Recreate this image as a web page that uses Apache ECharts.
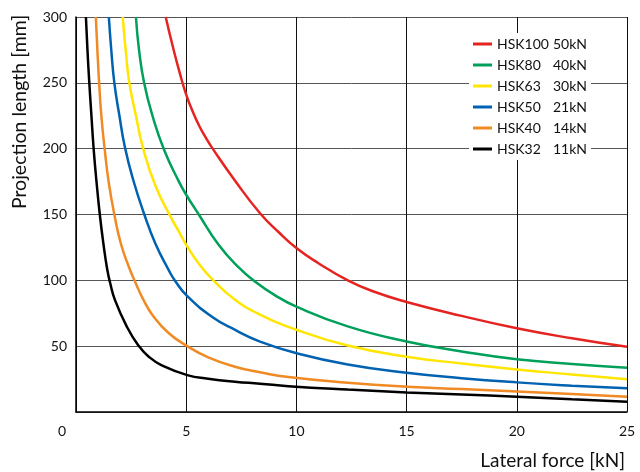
<!DOCTYPE html>
<html><head><meta charset="utf-8">
<script src="https://cdn.jsdelivr.net/npm/echarts@6/dist/echarts.min.js"></script>
<style>html,body{margin:0;padding:0;background:#fff}#c{width:640px;height:472px}</style>
</head><body><div id="c"></div>
<script>
const seriesNames = ['HSK100','HSK80','HSK63','HSK50','HSK40','HSK32'];
const forceLabels = ['50kN','40kN','30kN','21kN','14kN','11kN'];
const colors = ['#e52421','#00a05a','#ffe600','#0062b0','#f08a24','#000000'];
const xTicks = [0,5,10,15,20,25];
const yTicks = [0,50,100,150,200,250,300];

const hsk100 = [[4.07,300],[4.4,277],[4.7,258],[5,241],[5.3,228],[5.6,217],[5.9,208],[6.2,200],[7.2,176],[8.35,151],[9.2,136.5],[10,124.5],[11,113],[12.33,100],[13.5,91.5],[15,83.6],[17.5,73],[20,63.6],[22.5,56],[25,49.5]];
const hsk80 = [[2.72,300],[2.86,275],[3.09,250],[3.47,225],[4.0,199],[4.67,175],[5,165],[5.57,150],[6.47,127],[7.37,110],[8.13,99],[9,89],[10,80],[12.33,65],[15,53.5],[17.5,46],[20,40],[22.5,36.5],[25,33.6]];
const hsk63 = [[2.12,300],[2.27,272],[2.42,250],[2.72,225],[3.05,200],[3.6,172],[4.3,148],[4.67,137],[5,127],[5.6,112],[6.2,100.5],[7.2,85.5],[8.35,74],[10,62.5],[12.33,50.5],[15,42],[17.5,36.8],[20,32.3],[22.5,28.5],[25,24.8]];
const hsk50 = [[1.49,300],[1.6,275],[1.74,250],[1.97,225],[2.22,201],[2.6,176],[3.1,150],[3.6,128],[4.2,108],[4.5,99.5],[5.05,88],[6.2,72],[7.2,62.5],[8.35,53.5],[10,44.7],[12.33,36.1],[15,29.8],[17.5,25.7],[20,22.5],[22.5,20],[25,18]];
const hsk40 = [[0.9,300],[0.97,275],[1.05,250],[1.15,225],[1.3,200],[1.48,175],[1.74,150],[2.05,127],[2.45,108],[2.68,99],[3.05,85.5],[3.5,73],[4.2,60],[5.05,50],[6,41.5],[7.21,34.4],[8.35,30.2],[9.64,26.5],[12.33,22.2],[15,19.2],[17.5,17.4],[20,15.6],[22.5,13.6],[25,11.6]];
const hsk32 = [[0.45,300],[0.52,275],[0.6,251],[0.7,225],[0.8,200],[0.93,175],[1.08,150],[1.25,127],[1.42,108],[1.55,98],[1.77,85],[2.3,65],[2.83,50.5],[3.3,42],[3.89,35.5],[5.05,28],[6,25.3],[7.21,23],[8.35,21.5],[9.64,19.6],[12.33,17],[15,14.9],[17.5,13.3],[20,11.6],[22.5,9.7],[25,7.8]];
const allData = [hsk100,hsk80,hsk63,hsk50,hsk40,hsk32];

const FONT = 'Lato';
const chart = echarts.init(document.getElementById('c'), null, {renderer:'canvas'});
chart.setOption({
  animation:false,
  backgroundColor:'#fff',
  grid:{left:76,right:13,top:17,bottom:60},
  xAxis:{type:'value',min:0,max:25,interval:5,
    axisLine:{show:true,onZero:false,lineStyle:{color:'#000',width:1.5}},
    axisTick:{show:false},
    axisLabel:{color:'#111',fontFamily:FONT,fontSize:14,margin:12,
      formatter:v=>xTicks.includes(v)?(v===0?'{z|0}':String(v)):'',
      rich:{z:{fontFamily:FONT,fontSize:14,color:'#111',padding:[0,28,0,0]}}},
    splitLine:{show:true,lineStyle:{color:'#111',width:1}}},
  yAxis:{type:'value',min:0,max:300,interval:50,
    axisLine:{show:true,lineStyle:{color:'#000',width:1.5}},
    axisTick:{show:false},
    axisLabel:{color:'#111',fontFamily:FONT,fontSize:14,margin:9,
      formatter:v=>(yTicks.includes(v)&&v!==0)?String(v):''},
    splitLine:{show:true,lineStyle:{color:'#555',width:1}}},
  legend:{show:true,left:469,top:33,orient:'vertical',
    backgroundColor:'#fff',padding:[4,4,4,4],itemGap:7,
    icon:'rect',itemWidth:19,itemHeight:3,
    data:seriesNames,
    formatter:n=>'{a|'+n+'}{b|'+forceLabels[seriesNames.indexOf(n)]+'}',
    textStyle:{fontFamily:FONT,fontSize:14,color:'#111',lineHeight:14,
      rich:{a:{width:56,fontFamily:FONT,fontSize:14,color:'#111'},b:{fontFamily:FONT,fontSize:14,color:'#111'}}}},
  graphic:[
    {type:'text',x:20,y:112,rotation:Math.PI/2,
      style:{text:'Projection length [mm]',fontFamily:FONT,fontSize:19.5,fill:'#111',textAlign:'center',textVerticalAlign:'middle'}},
    {type:'text',x:625,y:461,
      style:{text:'Lateral force [kN]',fontFamily:FONT,fontSize:19,fill:'#111',textAlign:'right',textVerticalAlign:'middle'}}
  ],
  series:seriesNames.map((n,i)=>({
    name:n,type:'line',data:allData[i],smooth:0.5,showSymbol:false,symbol:'none',
    lineStyle:{color:colors[i],width:2.5},itemStyle:{color:colors[i]},clip:true
  }))
});
</script></body></html>
